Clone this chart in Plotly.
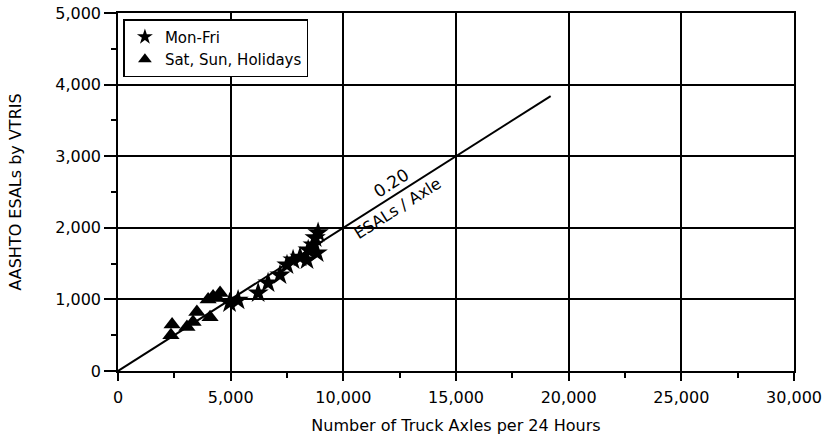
import plotly.graph_objects as go

# weekday counts (axles / 24 h) and ESALs
weekday_axles = [4950, 5330, 6220, 6660, 7190, 7500, 7770, 8080, 8390, 8440, 8660, 8750, 8840, 8880]
weekday_esals = [950, 990, 1090, 1230, 1340, 1480, 1550, 1590, 1550, 1690, 1760, 1860, 1650, 1930]

# weekend / holiday counts
weekend_axles = [2350, 2400, 3060, 3330, 3500, 4000, 4085, 4220, 4400, 4530]
weekend_esals = [500, 650, 615, 685, 825, 1000, 750, 1040, 1020, 1090]

# 0.20 ESALs per axle reference line
ref_axles = [0, 19200]
ref_rate = 0.20
ref_esals = [a * ref_rate for a in ref_axles]

x_ticks = [0, 5000, 10000, 15000, 20000, 25000, 30000]
y_ticks = [0, 1000, 2000, 3000, 4000, 5000]

FONT = "DejaVu Sans"

fig = go.Figure()
fig.add_trace(go.Scatter(x=ref_axles, y=ref_esals, mode="lines",
                         line=dict(color="black", width=2), showlegend=False))
fig.add_trace(go.Scatter(x=weekday_axles, y=weekday_esals, mode="markers", name="Mon-Fri",
                         marker=dict(symbol="star", size=16, color="black")))
fig.add_trace(go.Scatter(x=weekend_axles, y=weekend_esals, mode="markers", name="Sat, Sun, Holidays",
                         marker=dict(symbol="triangle-up", size=15, color="black")))

fig.add_annotation(x=12120, y=2630, text="0.20", showarrow=False, textangle=-32.5,
                   font=dict(size=17, color="black", family=FONT))
fig.add_annotation(x=12390, y=2270, text="ESALs / Axle", showarrow=False, textangle=-32.5,
                   font=dict(size=16, color="black", family=FONT))

axis_common = dict(showline=True, linecolor="black", linewidth=1.5, mirror=True,
                   showgrid=True, gridcolor="black", gridwidth=1.5,
                   ticks="outside", tickcolor="black", tickwidth=1.5,
                   zeroline=False, automargin=False, ticklabeloverflow="allow",
                   tickfont=dict(size=16, color="black", family=FONT),
                   tickformat=",")

fig.update_xaxes(range=[0, 30000], tickvals=x_ticks, ticklen=8, ticklabelstandoff=3,
                 minor=dict(ticks="outside", dtick=2500, ticklen=5, tickcolor="black", showgrid=False),
                 title=dict(text="Number of Truck Axles per 24 Hours",
                            font=dict(size=16, color="black", family=FONT), standoff=19),
                 **axis_common)
fig.update_yaxes(range=[0, 5000], tickvals=y_ticks, ticklen=12,
                 minor=dict(ticks="outside", dtick=500, ticklen=5, tickcolor="black", showgrid=False),
                 title=dict(text="AASHTO ESALs by VTRIS",
                            font=dict(size=16, color="black", family=FONT), standoff=30),
                 **axis_common)

fig.update_layout(
    width=828, height=435,
    margin=dict(l=118, r=34, t=13, b=64),
    plot_bgcolor="white", paper_bgcolor="white",
    font=dict(family=FONT, color="black"),
    legend=dict(x=0.008, y=0.983, xanchor="left", yanchor="top",
                bordercolor="black", borderwidth=1.5, bgcolor="white",
                font=dict(size=15, color="black", family=FONT),
                tracegroupgap=0, itemsizing="constant"),
)

# drop the browser's default 8px body margin so the figure sits at the window corner
fig.write_html("out.html", config={"displayModeBar": False},
               post_script="document.body.style.margin = '0px';")
